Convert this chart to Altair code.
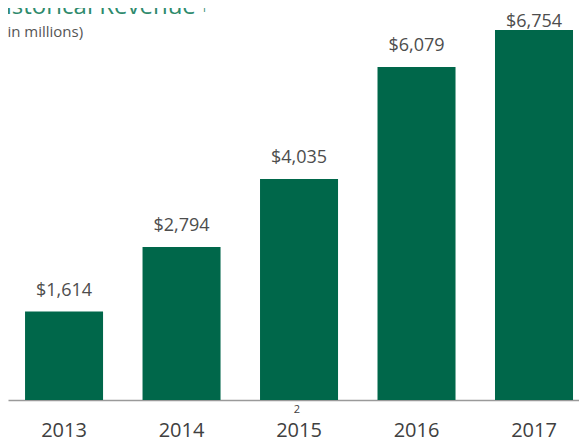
import altair as alt
import pandas as pd

years = ["2013", "2014", "2015", "2016", "2017"]
revenue = [1614, 2794, 4035, 6079, 6754]
labels = ["$1,614", "$2,794", "$4,035", "$6,079", "$6,754"]

df = pd.DataFrame({"year": years, "revenue": revenue, "label": labels})

BAR = "#00674a"
YMAX = 7156
x = alt.X("year:N", sort=years, title=None,
          scale=alt.Scale(paddingInner=0.336, paddingOuter=0.098, align=0.74),
          axis=alt.Axis(labelAngle=0, ticks=False, tickSize=0, labelPadding=30,
                        labelBaseline="middle",
                        labelFont="Open Sans",
                        labelFontSize=20, labelColor="#404040",
                        domainColor="#9a9a9a", domainWidth=1.5, grid=False))
yscale = alt.Scale(domain=[0, YMAX], nice=False)
y = alt.Y("revenue:Q", title=None, scale=yscale, axis=None)

base = alt.Chart(df)
bars = base.mark_bar(color=BAR).encode(x=x, y=y)
# label sits 16px above its bar, but is kept inside the frame at the top
text = base.transform_calculate(
    ly="min(datum.revenue + 292, 6809)"
).mark_text(baseline="alphabetic", font="Open Sans",
            fontSize=18, color="#4d4d4d").encode(
    x=x, y=alt.Y("ly:Q", scale=yscale, axis=None), text="label:N")

one = pd.DataFrame({"t": ["x"]})
title = alt.Chart(one).mark_text(align="left", baseline="alphabetic", font="Open Sans",
                                 fontSize=24, color="#2e8a6c").encode(
    x=alt.value(-20), y=alt.value(6), text=alt.value("Historical Revenue"))
sup1 = alt.Chart(one).mark_text(align="left", baseline="alphabetic", font="Open Sans",
                                fontSize=11, color="#2e8a6c").encode(
    x=alt.value(193), y=alt.value(4), text=alt.value("1"))
sub = alt.Chart(one).mark_text(align="left", baseline="alphabetic", font="Open Sans",
                               fontSize=15, color="#555555").encode(
    x=alt.value(-5), y=alt.value(29), text=alt.value("(in millions)"))
sup2 = alt.Chart(one).mark_text(align="center", baseline="middle", font="Open Sans",
                                fontSize=11, color="#404040").encode(
    x=alt.value(289), y=alt.value(402), text=alt.value("2"))

chart = alt.layer(bars, text, title, sup1, sub, sup2).properties(
    width=571, height=392,
    autosize=alt.AutoSizeParams(type="none"),
    padding={"left": 0, "top": 0, "right": 0, "bottom": 40},
).configure(background="white").configure_view(stroke=None, strokeWidth=0)

chart.save("out.html", embed_options={"renderer": "svg", "actions": False})
